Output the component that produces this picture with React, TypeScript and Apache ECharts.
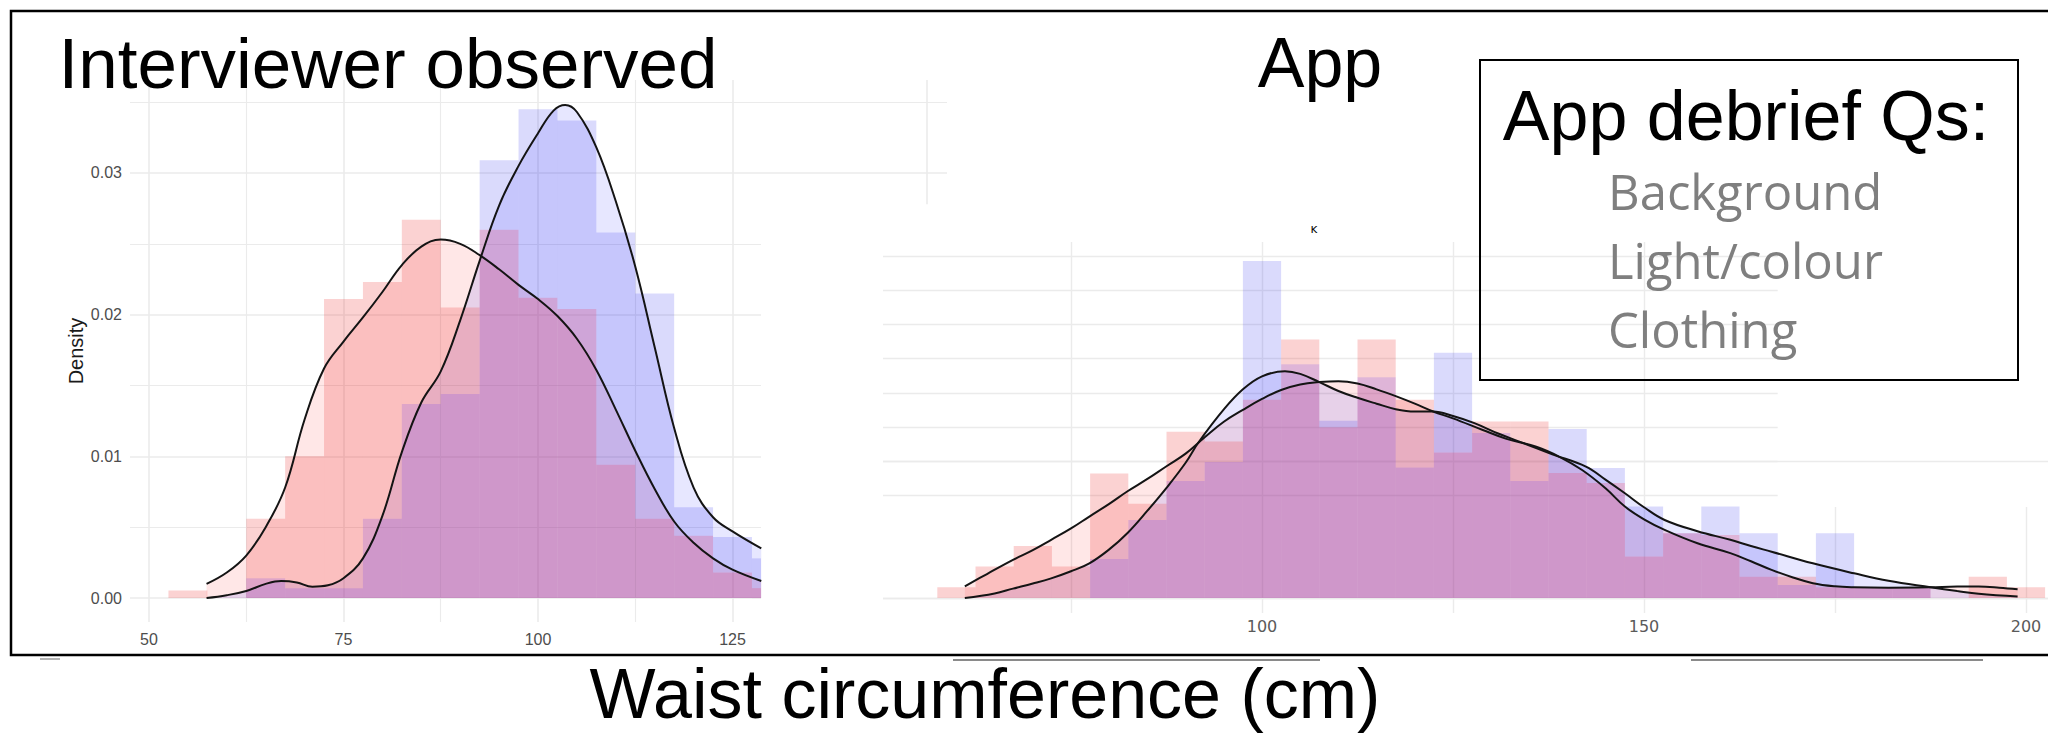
import React, { useEffect, useRef } from "react";
import * as echarts from "echarts";

// ---------------- shared ----------------
const BIN_WIDTH = 5;
const PINK = "rgba(235,48,48,0.22)";
const BLUE = "rgba(35,35,239,0.17)";
const PURPLE = "rgba(167,49,147,0.36)";
const PINK_FILL = "rgba(255,0,0,0.095)";
const BLUE_FILL = "rgba(0,0,255,0.095)";
const GRID_COLOR = "#ebebeb";

// ---------------- left panel: Interviewer observed ----------------
const leftBins = [55, 60, 65, 70, 75, 80, 85, 90, 95, 100, 105, 110, 115, 120, 125, 130];
const leftPinkHist = [0.00054, 0, 0.0056, 0.01, 0.0211, 0.0223, 0.0267, 0.0205, 0.026, 0.0212, 0.0204, 0.0094, 0.0056, 0.0044, 0.0018, 0.0007];
const leftBlueHist = [0, 0, 0.0014, 0.0007, 0.0007, 0.0056, 0.0137, 0.0144, 0.0309, 0.0345, 0.0337, 0.0258, 0.0215, 0.0064, 0.0043, 0.0028];
const leftPinkDensity: [number, number][] = [
  [57.4, 0.001], [60, 0.0018], [62.5, 0.003], [65, 0.005], [67.5, 0.0078], [70, 0.0126], [72.5, 0.0162],
  [75, 0.0181], [77.5, 0.0198], [80, 0.0216], [82.5, 0.0235], [85, 0.0248], [87.5, 0.0253], [90, 0.025],
  [92.5, 0.0242], [95, 0.0232], [97.5, 0.0221], [100, 0.0211], [102.5, 0.0199], [105, 0.0183], [107.5, 0.0161],
  [110, 0.0133], [112.5, 0.0104], [115, 0.0077], [117.5, 0.0054], [120, 0.0039], [122.5, 0.0028], [125, 0.002], [128.7, 0.0012],
];
const leftBlueDensity: [number, number][] = [
  [57.4, 0], [60, 0.0002], [62.5, 0.0005], [65, 0.001], [67, 0.0012], [69, 0.0011], [71, 0.0008], [73, 0.0009],
  [75, 0.0014], [77.5, 0.0028], [80, 0.0058], [82.5, 0.0103], [85, 0.0138], [87.5, 0.016], [90, 0.0196],
  [92.5, 0.0238], [95, 0.0277], [97.5, 0.0305], [100, 0.0328], [102, 0.0344], [103.5, 0.0348], [105, 0.0343],
  [107.5, 0.0318], [110, 0.028], [112.5, 0.0234], [115, 0.0177], [117.5, 0.012], [120, 0.0078], [122.5, 0.0057],
  [125, 0.0047], [128.7, 0.0035],
];
const leftXTicks = [50, 75, 100, 125];
const leftYTicks = [0, 0.01, 0.02, 0.03];
const leftXGrid = [50, 62.5, 75, 87.5, 100, 112.5, 125];
const leftYGrid = [0, 0.005, 0.01, 0.015, 0.02, 0.025, 0.03, 0.035];

// ---------------- right panel: App ----------------
const rightBins = [60, 65, 70, 75, 80, 85, 90, 95, 100, 105, 110, 115, 120, 125, 130, 135, 140, 145, 150, 155, 160, 165, 170, 175, 180, 185, 190, 195, 200];
const rightPinkHist = [0.00078, 0.0023, 0.0038, 0.0023, 0.0091, 0.00688, 0.01215, 0.01143, 0.01448, 0.0189, 0.01248, 0.0189, 0.01448, 0.01063, 0.0129, 0.0129, 0.00913, 0.0084, 0.00303, 0.00473, 0.0046, 0.00155, 0.00155, 0.00078, 0.00078, 0.00078, 0, 0.00155, 0.00078];
const rightBlueHist = [0, 0, 0, 0, 0.00285, 0.0057, 0.00855, 0.00993, 0.02463, 0.01708, 0.01295, 0.01613, 0.00953, 0.01793, 0.01205, 0.00855, 0.01235, 0.0095, 0.00668, 0.00473, 0.00668, 0.00473, 0.00095, 0.00473, 0.00078, 0.00078, 0, 0, 0];
const rightPinkDensity: [number, number][] = [
  [61.1, 0.00085], [64, 0.00175], [67.4, 0.00278], [70, 0.0035], [72.4, 0.00425], [75, 0.00508], [77.4, 0.00595],
  [80, 0.00688], [82.4, 0.0078], [85, 0.0087], [87.5, 0.00963], [90, 0.01055], [92.5, 0.01175], [95, 0.01288],
  [97.5, 0.01375], [100, 0.01455], [102.5, 0.0152], [105, 0.0156], [107.5, 0.01578], [110, 0.01585], [112.5, 0.01568],
  [115, 0.01525], [117.5, 0.01475], [120, 0.0142], [122.4, 0.01363], [125, 0.01313], [128.9, 0.01228], [132, 0.01163],
  [135.9, 0.01105], [139, 0.0103], [141.9, 0.00935], [145, 0.008], [147.5, 0.00668], [150, 0.00575], [152.7, 0.00498],
  [157, 0.004], [161.3, 0.00328], [164, 0.00268], [166.7, 0.00205], [169.5, 0.0015], [172.1, 0.00108], [175, 0.00085],
  [177.5, 0.00078], [182, 0.00075], [187.5, 0.00078], [191, 0.00083], [193.8, 0.00083], [196.5, 0.00075], [198.9, 0.00063],
];
const rightBlueDensity: [number, number][] = [
  [61.1, 0], [65, 0.00033], [67.4, 0.00068], [70, 0.00105], [72.4, 0.00143], [75, 0.00195], [77.4, 0.00253],
  [80, 0.00355], [82.4, 0.00475], [85, 0.00638], [87.5, 0.00805], [90, 0.00988], [91.7, 0.01138], [95, 0.01378],
  [97.5, 0.01525], [100, 0.0162], [103, 0.01658], [105, 0.01638], [107.5, 0.01578], [110, 0.01513], [112.5, 0.01463],
  [115, 0.0142], [117.5, 0.0138], [120, 0.01363], [122.4, 0.01363], [125, 0.0133], [127.8, 0.01278], [131, 0.012],
  [134.3, 0.0113], [138, 0.0105], [142.4, 0.0096], [145, 0.00863], [147.5, 0.00765], [150, 0.00663], [152.7, 0.0057],
  [157, 0.00488], [161.3, 0.00425], [164, 0.0038], [166.7, 0.00338], [172.1, 0.00253], [177.5, 0.0018], [182, 0.00125],
  [187.5, 0.00078], [191, 0.0005], [193.8, 0.0003], [198.9, 0.0001],
];
const rightXTicks = [100, 150, 200];
const rightXGridFull = [75, 100, 125, 150];
const rightXGridLow = [175, 200];
const rightYGridFull = [0, 0.0025, 0.005];
const rightYGridShort = [0.0075, 0.01, 0.0125, 0.015, 0.0175, 0.02, 0.0225, 0.025];

// ---------------- texts ----------------
const leftTitle = "Interviewer observed";
const rightTitle = "App";
const boxTitle = "App debrief Qs:";
const boxItems = ["Background", "Light/colour", "Clothing"];
const xAxisTitle = "Waist circumference (cm)";
const yAxisTitle = "Density";

// axis windows (the visible extent of each cropped panel)
const L_XMIN = 47.56, L_XMAX = 152.57, L_VISIBLE_XMAX = 128.66;
const L_YMIN = -0.00169, L_YMAX = 0.03656;
const R_XMIN = 50.39, R_XMAX = 202.88, R_GRID_XEND = 167.5, R_GRID_LOW_TOP = 0.00665;
const R_YMIN = -0.0011, R_YMAX = 0.02602;

function makeHistRender(visibleMax: number) {
  return function (params: any, api: any) {
    const c = api.value(0);
    const p = api.value(1);
    const b = api.value(2);
    const x0 = c - BIN_WIDTH / 2;
    const x1 = c + BIN_WIDTH / 2;
    const lo = Math.min(p, b);
    const hi = Math.max(p, b);
    const cs = params.coordSys;
    const rightEdge = Math.min(cs.x + cs.width, api.coord([visibleMax, 0])[0]);
    const clip = { x: cs.x, y: cs.y, width: rightEdge - cs.x, height: cs.height };
    const children: any[] = [];
    const add = (ya: number, yb: number, fill: string) => {
      if (yb <= ya) return;
      const tl = api.coord([x0, yb]);
      const br = api.coord([x1, ya]);
      const shape = echarts.graphic.clipRectByRect(
        { x: tl[0], y: tl[1], width: br[0] - tl[0], height: br[1] - tl[1] },
        clip
      );
      if (shape) children.push({ type: "rect", shape, style: { fill } });
    };
    add(0, lo, PURPLE);
    add(lo, hi, p > b ? PINK : BLUE);
    return { type: "group", children };
  };
}

function densityArea(data: [number, number][], fill: string, idx: number) {
  return {
    type: "line",
    xAxisIndex: idx,
    yAxisIndex: idx,
    data,
    smooth: 0.4,
    showSymbol: false,
    symbol: "none",
    silent: true,
    lineStyle: { width: 0, opacity: 0 },
    areaStyle: { color: fill, opacity: 1 },
    z: 2,
  };
}

function densityLine(data: [number, number][], idx: number) {
  return {
    type: "line",
    xAxisIndex: idx,
    yAxisIndex: idx,
    data,
    smooth: 0.4,
    showSymbol: false,
    symbol: "none",
    silent: true,
    lineStyle: { color: "#141414", width: 2 },
    z: 12,
  };
}

function gridSeries(idx: number, lines: any[]) {
  return {
    type: "line",
    xAxisIndex: idx,
    yAxisIndex: idx,
    data: [],
    silent: true,
    z: 0,
    markLine: {
      z: 1,
      silent: true,
      symbol: ["none", "none"],
      label: { show: false },
      animation: false,
      lineStyle: { color: GRID_COLOR, type: "solid", width: 1.4 },
      data: lines,
    },
  };
}

export default function App() {
  const ref = useRef<HTMLDivElement>(null);

  useEffect(() => {
    if (!ref.current) return;
    const chart = echarts.init(ref.current, undefined, { renderer: "svg" });

    const leftLines: any[] = [];
    leftYGrid.forEach((v, i) => {
      const major = i % 2 === 0;
      const end = v >= 0.03 ? L_XMAX : L_VISIBLE_XMAX;
      leftLines.push([
        { coord: [L_XMIN, v], lineStyle: { color: GRID_COLOR, width: major ? 1.6 : 1.1 } },
        { coord: [end, v] },
      ]);
    });
    leftXGrid.forEach((v, i) => {
      const major = i % 2 === 0;
      leftLines.push({ xAxis: v, lineStyle: { color: GRID_COLOR, width: major ? 1.6 : 1.1 } });
    });
    leftLines.push([{ coord: [150, 0.0278], lineStyle: { color: GRID_COLOR, width: 1.6 } }, { coord: [150, L_YMAX] }]);

    const rightLines: any[] = [];
    rightYGridFull.forEach((v) => rightLines.push({ yAxis: v }));
    rightYGridShort.forEach((v) => rightLines.push([{ coord: [R_XMIN, v] }, { coord: [R_GRID_XEND, v] }]));
    rightXGridFull.forEach((v) => rightLines.push({ xAxis: v }));
    rightXGridLow.forEach((v) => rightLines.push([{ coord: [v, R_YMIN] }, { coord: [v, R_GRID_LOW_TOP] }]));

    const option: any = {
      animation: false,
      backgroundColor: "#ffffff",
      grid: [
        { left: 130, top: 80, width: 817, height: 542 },
        { left: 883, top: 242, width: 1165, height: 371 },
      ],
      xAxis: [
        {
          type: "value",
          gridIndex: 0,
          min: L_XMIN,
          max: L_XMAX,
          axisLine: { show: false },
          axisTick: { show: false },
          splitLine: { show: false },
          axisLabel: {
            customValues: leftXTicks,
            color: "#4d4d4d",
            fontSize: 16,
            fontFamily: "Liberation Sans",
            margin: 9,
            formatter: (v: number) => String(v),
          },
        },
        {
          type: "value",
          gridIndex: 1,
          min: R_XMIN,
          max: R_XMAX,
          axisLine: { show: false },
          axisTick: { show: false },
          splitLine: { show: false },
          axisLabel: {
            customValues: rightXTicks,
            color: "#5a5a5a",
            fontSize: 16,
            fontFamily: "DejaVu Sans",
            margin: 5,
            formatter: (v: number) => String(v),
          },
        },
      ],
      yAxis: [
        {
          type: "value",
          gridIndex: 0,
          min: L_YMIN,
          max: L_YMAX,
          axisLine: { show: false },
          axisTick: { show: false },
          splitLine: { show: false },
          name: yAxisTitle,
          nameLocation: "middle",
          nameRotate: 90,
          nameGap: 44,
          nameTextStyle: { fontSize: 20, color: "#1a1a1a", fontFamily: "Liberation Sans" },
          axisLabel: {
            customValues: leftYTicks,
            color: "#4d4d4d",
            fontSize: 16,
            fontFamily: "Liberation Sans",
            margin: 8,
            formatter: (v: number) => v.toFixed(2),
          },
        },
        {
          type: "value",
          gridIndex: 1,
          min: R_YMIN,
          max: R_YMAX,
          axisLine: { show: false },
          axisTick: { show: false },
          splitLine: { show: false },
          axisLabel: { show: false },
        },
      ],
      series: [
        gridSeries(0, leftLines),
        gridSeries(1, rightLines),
        densityArea(leftPinkDensity, PINK_FILL, 0),
        densityArea(leftBlueDensity, BLUE_FILL, 0),
        densityArea(rightPinkDensity, PINK_FILL, 1),
        densityArea(rightBlueDensity, BLUE_FILL, 1),
        {
          type: "custom",
          xAxisIndex: 0,
          yAxisIndex: 0,
          silent: true,
          z: 10,
          renderItem: makeHistRender(L_VISIBLE_XMAX),
          data: leftBins.map((c, i) => [c, leftPinkHist[i], leftBlueHist[i]]),
        },
        {
          type: "custom",
          xAxisIndex: 1,
          yAxisIndex: 1,
          silent: true,
          z: 10,
          renderItem: makeHistRender(R_XMAX),
          data: rightBins.map((c, i) => [c, rightPinkHist[i], rightBlueHist[i]]),
        },
        densityLine(leftPinkDensity, 0),
        densityLine(leftBlueDensity, 0),
        densityLine(rightPinkDensity, 1),
        densityLine(rightBlueDensity, 1),
      ],
      graphic: [
        {
          type: "rect",
          z: 100,
          silent: true,
          shape: { x: 11, y: 11, width: 2045, height: 644 },
          style: { fill: "none", stroke: "#000", lineWidth: 2.5 },
        },
        {
          type: "text",
          z: 100,
          x: 388,
          y: 63,
          style: { text: leftTitle, font: '71px "Liberation Sans"', fill: "#000", align: "center", verticalAlign: "middle" },
        },
        {
          type: "text",
          z: 100,
          x: 1320,
          y: 63,
          style: { text: rightTitle, font: '70px "Liberation Sans"', fill: "#000", align: "center", verticalAlign: "middle" },
        },
        {
          type: "rect",
          z: 100,
          silent: true,
          shape: { x: 1480, y: 60, width: 538, height: 320 },
          style: { fill: "none", stroke: "#000", lineWidth: 2 },
        },
        {
          type: "text",
          z: 101,
          x: 1746,
          y: 116,
          style: { text: boxTitle, font: '70px "Liberation Sans"', fill: "#000", align: "center", verticalAlign: "middle" },
        },
        ...boxItems.map((t, i) => ({
          type: "text",
          z: 101,
          x: 1608,
          y: 191 + i * 69,
          style: { text: t, font: '49px "Open Sans"', fill: "#7f7f7f", align: "left", verticalAlign: "middle" },
        })),
        {
          type: "text",
          z: 100,
          x: 985,
          y: 694,
          style: { text: xAxisTitle, font: '70px "Liberation Sans"', fill: "#000", align: "center", verticalAlign: "middle" },
        },
        {
          type: "text",
          z: 100,
          x: 1314,
          y: 229,
          style: { text: "ĸ", font: '12px "DejaVu Sans"', fill: "#000", align: "center", verticalAlign: "middle" },
        },
        {
          type: "line",
          z: 100,
          silent: true,
          shape: { x1: 953, y1: 660, x2: 1320, y2: 660 },
          style: { stroke: "#8a8a8a", lineWidth: 2 },
        },
        {
          type: "line",
          z: 100,
          silent: true,
          shape: { x1: 1691, y1: 660, x2: 1983, y2: 660 },
          style: { stroke: "#8a8a8a", lineWidth: 2 },
        },
        {
          type: "line",
          z: 100,
          silent: true,
          shape: { x1: 40, y1: 659, x2: 60, y2: 659 },
          style: { stroke: "#9a9a9a", lineWidth: 1.5 },
        },
      ],
    };

    chart.setOption(option);
    return () => chart.dispose();
  }, []);

  return (
    <div
      ref={ref}
      style={{ position: "fixed", left: 0, top: 0, width: 2048, height: 734, background: "#fff" }}
    />
  );
}
